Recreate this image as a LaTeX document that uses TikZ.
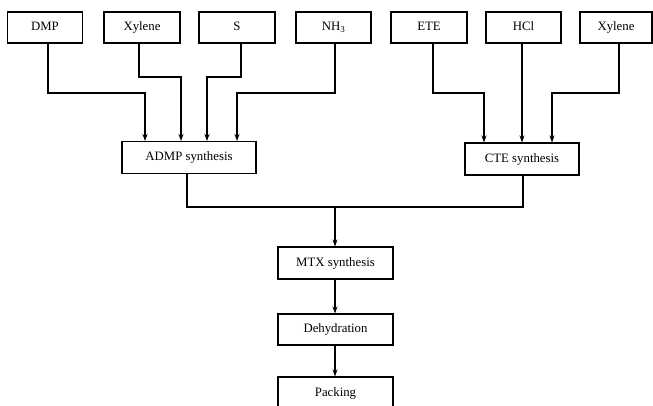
\documentclass[tikz,border=0pt]{standalone}
\usepackage{fontspec}
\setmainfont{Liberation Serif}
\usetikzlibrary{arrows.meta}
\begin{document}
\begin{tikzpicture}[x=1pt,y=-1pt,
  box/.style={draw,line width=1.1pt,inner sep=0pt,minimum height=31pt,
    text height=9pt,text depth=3pt,
    font=\fontsize{12.8}{13}\selectfont},
  flow/.style={line width=1.1pt},
  feed/.style={flow,-{Stealth[length=7pt,width=5pt]}}]
\clip (0,0) rectangle (653,405);
\useasboundingbox (0,0) rectangle (653,405);
% raw materials
\node[box,minimum width=75pt] (dmp)  at (45,27.5)    {DMP};
\node[box,minimum width=76pt] (xyl)  at (142,27.5)   {Xylene};
\node[box,minimum width=76pt] (s)    at (237,27.5)   {S};
\node[box,minimum width=75pt] (nh3)  at (333.5,27.5) {NH\textsubscript{3}};
\node[box,minimum width=76pt] (ete)  at (429,27.5)   {ETE};
\node[box,minimum width=75pt] (hcl)  at (523.5,27.5) {HCl};
\node[box,minimum width=72pt] (xylb) at (616,27.5)   {Xylene};
% intermediate syntheses
\node[box,minimum width=134pt,minimum height=32pt] (admp) at (189,157.5) {ADMP synthesis};
\node[box,minimum width=114pt,minimum height=32pt] (cte)  at (522,159)   {CTE synthesis};
% main line
\node[box,minimum width=115pt,minimum height=32pt] (mtx)  at (335.5,263) {MTX synthesis};
\node[box,minimum width=115pt] (dehy) at (335.5,329.5) {Dehydration};
\node[box,minimum width=115pt,minimum height=32pt] (pack) at (335.5,393) {Packing};
% feeds to ADMP synthesis
\draw[feed] (dmp.south -| 48,0) |- (145,93) -- (admp.north -| 145,0);
\draw[feed] (xyl.south -| 139,0) |- (181,77) -- (admp.north -| 181,0);
\draw[feed] (s.south -| 241,0) |- (207,77) -- (admp.north -| 207,0);
\draw[feed] (nh3.south -| 335,0) |- (237,93) -- (admp.north -| 237,0);
% feeds to CTE synthesis
\draw[feed] (ete.south -| 433,0) |- (484,93) -- (cte.north -| 484,0);
\draw[feed] (hcl.south -| 522,0) -- (cte.north -| 522,0);
\draw[feed] (xylb.south -| 619,0) |- (552,93) -- (cte.north -| 552,0);
% merge into MTX synthesis
\coordinate (join) at (335,207);
\draw[flow] (admp.south -| 187,0) |- (join) -| (cte.south -| 523,0);
\draw[feed] (join) -- (mtx.north -| 335,0);
\draw[feed] (mtx.south -| 335,0) -- (dehy.north -| 335,0);
\draw[feed] (dehy.south -| 335,0) -- (pack.north -| 335,0);
\end{tikzpicture}
\end{document}
